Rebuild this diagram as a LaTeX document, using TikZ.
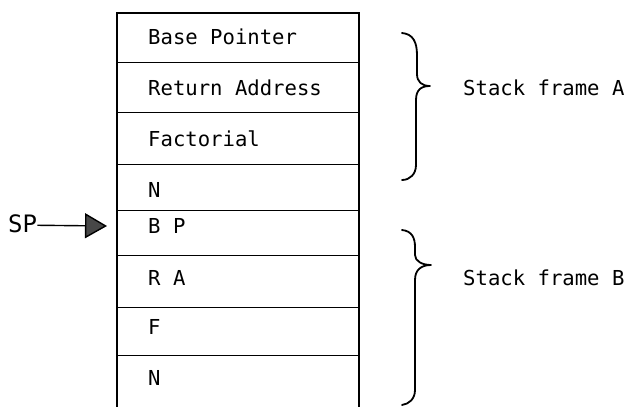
\documentclass[tikz,border=0pt]{standalone}
\usepackage{fontspec}
\newfontfamily\stackmono{DejaVu Sans Mono}
\usetikzlibrary{arrows.meta}
\begin{document}
\begin{tikzpicture}[x=1pt,y=-1pt,
  rowbox/.style={draw=none, inner sep=0pt, minimum width=242pt},
  frame/.style={line width=1.7pt},
  sepline/.style={line width=1.4pt},
  cell/.style={anchor=base west, inner sep=0pt, font=\stackmono\fontsize{20.6}{24}\selectfont},
  brace/.style={line width=1.8pt, line cap=round, line join=round},
  spfont/.style={anchor=base west, inner sep=0pt, font=\stackmono\fontsize{24}{30}\selectfont},
  pointer/.style={line width=1.4pt, -{Triangle[length=22pt,width=25pt,fill=black!72]}}]
\useasboundingbox (0,0) rectangle (630,407);
\fill[white] (0,0) rectangle (630,407);
% rows (boundaries 13,62,112,164,210,255,307,355,407)
\node[rowbox, minimum height=49pt] (r1) at (238,37.5) {};
\node[rowbox, minimum height=50pt] (r2) at (238,87) {};
\node[rowbox, minimum height=52pt] (r3) at (238,138) {};
\node[rowbox, minimum height=46pt] (r4) at (238,187) {};
\node[rowbox, minimum height=45pt] (r5) at (238,232.5) {};
\node[rowbox, minimum height=52pt] (r6) at (238,281) {};
\node[rowbox, minimum height=48pt] (r7) at (238,331) {};
\node[rowbox, minimum height=52pt] (r8) at (238,381) {};
% frame, open at the bottom
\draw[frame] (r8.south west) -- (r1.north west) -- (r1.north east) -- (r8.south east);
\foreach \r in {r1,r2,r3,r4,r5,r6,r7}{
  \draw[sepline] (\r.south west) -- (\r.south east);
}
% cell texts
\node[cell] (t1) at (148,44) {Base Pointer};
\node[cell] (t2) at (148,95) {Return Address};
\node[cell] (t3) at (148,146) {Factorial};
\node[cell] (t4) at (148,197) {N};
\node[cell] (t5) at (148,233) {B P};
\node[cell] (t6) at (148,285) {R A};
\node[cell] (t7) at (148,334) {F};
\node[cell] (t8) at (148,385) {N};
% stack pointer
\node[spfont] (sp) at (8,232) {SP};
\coordinate (sptip) at (107,226);
\draw[pointer] ([yshift=-2pt]sp.east) -- (sptip);
% braces
\draw[brace] (402,33) .. controls (413,34) and (417,42) .. (417,55) -- (417,74)
  .. controls (417,82) and (422,86) .. (430,86)
  .. controls (421,86) and (416,90) .. (416,100) -- (416,165)
  .. controls (416,174) and (410,180) .. (402,180);
\draw[brace] (402,230) .. controls (412,231) and (415,238) .. (415,247) -- (415,255)
  .. controls (415,261) and (422,265) .. (431,265)
  .. controls (421,265) and (415,270) .. (415,280) -- (415,390)
  .. controls (415,399) and (409,404) .. (402,405);
\node[cell] (fa) at (463,95) {Stack frame A};
\node[cell] (fb) at (463,285) {Stack frame B};
\end{tikzpicture}
\end{document}
